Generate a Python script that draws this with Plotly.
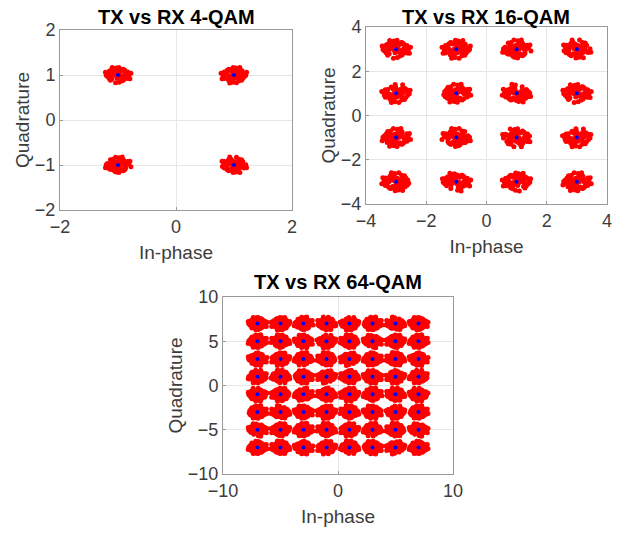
import plotly.graph_objects as go

# ---- data ----
LEVELS_4 = [-1, 1]
LEVELS_16 = [-3, -1, 1, 3]
LEVELS_64 = [-7, -5, -3, -1, 1, 3, 5, 7]

# hand-estimated normalised scatter offsets of received symbols around each TX point
NOISE_I = [0.12, -0.35, 0.58, -0.51, 0.05, 0.88, -0.22, 0.31, -0.93, 0.27, -0.08, 0.66,
           -0.49, 0.19, -0.41, 0.74, -0.15, 0.33, -0.82, 0.51, 0.02, -0.38, 0.95, -0.27,
           0.44, -0.55, 0.09, 0.62, -0.68, 0.23, -0.11, 0.79, -0.44, 0.36, -0.97, 0.14,
           -0.31, 0.43, -0.02, 0.70, -0.66, 0.29, -0.19, 0.80, -0.58, 0.07, 0.47, -0.86,
           0.18, -0.05, 0.31, -0.26, 0.00, 0.10, -0.14, 0.22, -0.42, 0.39, -0.33, 0.45,
           0.25, -0.18, 0.06, -0.29, -0.72, 0.55, -0.62, 0.85, 1.06, -1.03, 0.35, -0.48,
           0.98, -0.20]
NOISE_Q = [-0.21, 0.46, 0.08, -0.53, 0.77, -0.12, 0.34, -0.79, 0.15, 0.57, -0.41, 0.03,
           0.59, -0.28, -0.74, 0.15, 0.92, -0.53, 0.38, -0.06, 0.61, -0.33, 0.19, 0.81,
           -0.67, 0.11, -0.95, 0.43, 0.27, -0.17, 0.55, -0.45, 0.04, 0.72, -0.04, -0.58,
           0.31, 0.76, -0.09, -0.37, 0.54, -0.79, 0.13, 0.40, -0.14, 0.99, -0.51, -0.21,
           -0.02, 0.16, -0.30, 0.07, 0.24, -0.12, 0.35, -0.20, 0.41, -0.44, 0.28, -0.36,
           0.52, -0.08, -0.25, 0.10, -0.45, 0.62, -0.70, -0.25, 0.22, 0.35, -1.04, 0.97,
           -0.48, -1.02]
SPREAD_4 = (0.21, 0.17)
SPREAD_16 = (0.45, 0.40)
SPREAD_64 = (0.78, 0.70)

TITLES = ["TX vs RX 4-QAM", "TX vs RX 16-QAM", "TX vs RX 64-QAM"]
X_TICKS = [[-2, 0, 2], [-4, -2, 0, 2, 4], [-10, 0, 10]]
Y_TICKS = [[-2, -1, 0, 1, 2], [-4, -2, 0, 2, 4], [-10, -5, 0, 5, 10]]
RANGES = [(-2, 2), (-4, 4), (-10, 10)]
FLIPS = [(1, 1), (-1, 1), (1, -1), (-1, -1)]


def constellation(levels, spread):
    tx_i, tx_q, rx_i, rx_q = [], [], [], []
    n = len(NOISE_I)
    k = 0
    for q in levels[::-1]:
        for i in levels:
            tx_i.append(i)
            tx_q.append(q)
            fx, fy = FLIPS[(k + k // 4) % 4]
            for j in range(n):
                if (j + 3 * k) % 7 == 0:
                    continue
                rx_i.append(i + fx * spread[0] * NOISE_I[j])
                rx_q.append(q + fy * spread[1] * NOISE_Q[j])
            k += 1
    return tx_i, tx_q, rx_i, rx_q


# page body has an 8px margin, so the figure is laid out 8px smaller and offset
OFF = 8
W, H = 633 - OFF, 533 - OFF
boxes = [(60, 292, 30, 210), (366, 607, 27, 204), (223, 453, 297, 474)]
title_mid = [17, 17, 282]

fig = go.Figure()
FONT = "Liberation Sans, Arial, sans-serif"
TXT = "#3c3c3c"
sets = [(LEVELS_4, SPREAD_4), (LEVELS_16, SPREAD_16), (LEVELS_64, SPREAD_64)]

for idx, (lv, sp) in enumerate(sets):
    tx_i, tx_q, rx_i, rx_q = constellation(lv, sp)
    xa = "x" if idx == 0 else f"x{idx+1}"
    ya = "y" if idx == 0 else f"y{idx+1}"
    fig.add_trace(go.Scatter(x=rx_i, y=rx_q, mode="markers", xaxis=xa, yaxis=ya,
                             marker=dict(color="#ff0000", size=5, line=dict(width=0)),
                             showlegend=False, hoverinfo="skip"))
    fig.add_trace(go.Scatter(x=tx_i, y=tx_q, mode="markers", xaxis=xa, yaxis=ya,
                             marker=dict(color="#0000ff", size=4, line=dict(width=0)),
                             showlegend=False, hoverinfo="skip"))
    x0, x1, y0, y1 = [v - OFF for v in boxes[idx]]
    axcommon = dict(showline=True, linecolor="#9a9a9a", linewidth=1, mirror=True,
                    showgrid=True, gridcolor="#e6e6e6", gridwidth=1, zeroline=False,
                    ticks="inside", ticklen=3, tickcolor="#9a9a9a",
                    tickfont=dict(family=FONT, size=18, color=TXT),
                    range=list(RANGES[idx]))
    fig.layout[f"xaxis{'' if idx == 0 else idx+1}"] = dict(
        domain=[x0 / W, x1 / W], anchor=ya, tickvals=X_TICKS[idx],
        title=dict(text="In-phase", font=dict(family=FONT, size=19, color=TXT), standoff=10),
        **axcommon)
    fig.layout[f"yaxis{'' if idx == 0 else idx+1}"] = dict(
        domain=[1 - y1 / H, 1 - y0 / H], anchor=xa, tickvals=Y_TICKS[idx],
        title=dict(text="Quadrature", font=dict(family=FONT, size=19, color=TXT), standoff=0),
        **axcommon)
    fig.add_annotation(text=f"<b>{TITLES[idx]}</b>", xref="paper", yref="paper",
                       x=(x0 + x1) / 2 / W, y=1 - (title_mid[idx] - OFF) / H, showarrow=False,
                       xanchor="center", yanchor="middle", borderpad=0,
                       font=dict(family=FONT, size=20, color="#000000"))

fig.update_layout(width=W, height=H, margin=dict(l=0, r=0, t=0, b=0, autoexpand=False),
                  paper_bgcolor="white", plot_bgcolor="white")
fig.write_html("out.html")
